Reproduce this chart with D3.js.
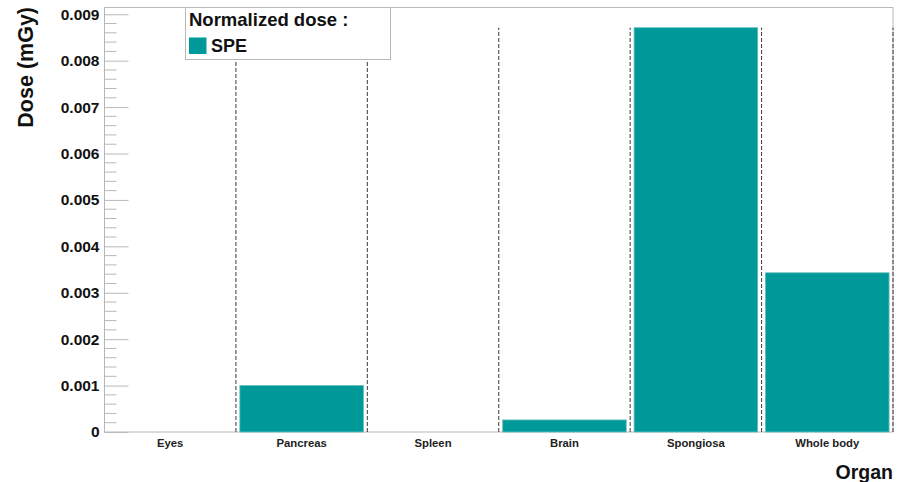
<!DOCTYPE html>
<html>
<head>
<meta charset="utf-8">
<script src="https://cdn.jsdelivr.net/npm/d3@7"></script>
<style>
  html, body { margin: 0; padding: 0; background: #fff; }
  svg { display: block; font-family: "Liberation Sans", Arial, Helvetica, sans-serif; font-weight: bold; }
</style>
</head>
<body>
<svg id="chart" width="905" height="482"></svg>
<script>
// Organ doses, normalized (mGy)
const organs = ["Eyes", "Pancreas", "Spleen", "Brain", "Spongiosa", "Whole body"];
const doses = [0, 0.00100, 0, 0.00026, 0.00871, 0.00343];
const yMajorTicks = [0, 0.001, 0.002, 0.003, 0.004, 0.005, 0.006, 0.007, 0.008, 0.009];
const seriesName = "SPE";
const legendTitle = "Normalized dose :";
const xTitle = "Organ";
const yTitle = "Dose (mGy)";

const W = 905, H = 482;
const frame = { left: 104.5, right: 893, top: 7.5, bottom: 432 };
const barColor = "#009999";
const frameColor = "#b8b8b8";

const svg = d3.select("#chart");

const x = d3.scaleBand()
  .domain(organs)
  .range([frame.left, frame.right]);

const yMax = d3.max(doses) * 1.05;
const y = d3.scaleLinear()
  .domain([0, yMax])
  .range([frame.bottom, frame.top]);

// Minor ticks: five divisions per major interval
const yMinorTicks = d3.range(0, 46).map(i => i * 0.0002)
  .filter(v => v <= yMax && Math.abs(v / 0.001 - Math.round(v / 0.001)) > 1e-6);

// Frame
svg.append("rect")
  .attr("x", frame.left).attr("y", frame.top)
  .attr("width", frame.right - frame.left)
  .attr("height", frame.bottom - frame.top)
  .attr("fill", "none").attr("stroke", frameColor).attr("stroke-width", 1);

// Dashed bin edges up to the highest dose
const edges = organs.map(o => x(o) + x.bandwidth());
svg.append("g").selectAll("line")
  .data(edges)
  .join("line")
  .attr("x1", d => d).attr("x2", d => d)
  .attr("y1", frame.bottom).attr("y2", y(d3.max(doses)))
  .attr("stroke", "#3a3a3a").attr("stroke-width", 1)
  .attr("stroke-dasharray", "4,2");

// Bars
const inset = x.bandwidth() * 0.03;
svg.append("g").selectAll("rect")
  .data(organs.map((o, i) => ({ organ: o, dose: doses[i] })).filter(d => d.dose > 0))
  .join("rect")
  .attr("x", d => x(d.organ) + inset)
  .attr("width", x.bandwidth() - 2 * inset)
  .attr("y", d => y(d.dose))
  .attr("height", d => frame.bottom - y(d.dose))
  .attr("fill", barColor)
  .attr("stroke", "#62bdbd").attr("stroke-width", 0.8);

// Y axis: major ticks with labels
const yAxis = d3.axisLeft(y)
  .tickValues(yMajorTicks)
  .tickSizeInner(-24)
  .tickSizeOuter(0)
  .tickPadding(5)
  .tickFormat(d => d === 0 ? "0" : d3.format(".3f")(d));

const gy = svg.append("g")
  .attr("transform", `translate(${frame.left},0)`)
  .call(yAxis);
gy.select(".domain").remove();
gy.selectAll(".tick line").attr("stroke", frameColor);
gy.selectAll(".tick text")
  .attr("fill", "#111")
  .style("font-size", "15.5px")
  .style("font-weight", "bold")
  .style("font-family", "'Liberation Sans', Arial, sans-serif");

// Y axis: minor ticks
svg.append("g").selectAll("line")
  .data(yMinorTicks)
  .join("line")
  .attr("x1", frame.left).attr("x2", frame.left + 12)
  .attr("y1", d => y(d)).attr("y2", d => y(d))
  .attr("stroke", frameColor).attr("stroke-width", 1);

// Category labels
svg.append("g").selectAll("text")
  .data(organs)
  .join("text")
  .attr("x", d => x(d) + x.bandwidth() / 2)
  .attr("y", 446.5)
  .attr("text-anchor", "middle")
  .attr("fill", "#222")
  .style("font-size", "11.3px")
  .text(d => d);

// Axis titles
svg.append("text")
  .attr("x", frame.right).attr("y", 479)
  .attr("text-anchor", "end")
  .attr("fill", "#111")
  .style("font-size", "19.5px")
  .text(xTitle);

svg.append("text")
  .attr("transform", "translate(33,7) rotate(-90)")
  .attr("text-anchor", "end")
  .attr("fill", "#111")
  .style("font-size", "21.5px")
  .text(yTitle);

// Legend
const lg = svg.append("g");
lg.append("rect")
  .attr("x", 185.5).attr("y", 7.5)
  .attr("width", 205).attr("height", 52)
  .attr("fill", "#fff").attr("stroke", frameColor).attr("stroke-width", 1);
lg.append("text")
  .attr("x", 189).attr("y", 26)
  .attr("fill", "#111")
  .style("font-size", "18.5px")
  .text(legendTitle);
lg.append("rect")
  .attr("x", 189).attr("y", 37.5)
  .attr("width", 17.5).attr("height", 16.5)
  .attr("fill", barColor);
lg.append("text")
  .attr("x", 211).attr("y", 51.5)
  .attr("fill", "#111")
  .style("font-size", "18px")
  .text(seriesName);
</script>
</body>
</html>
